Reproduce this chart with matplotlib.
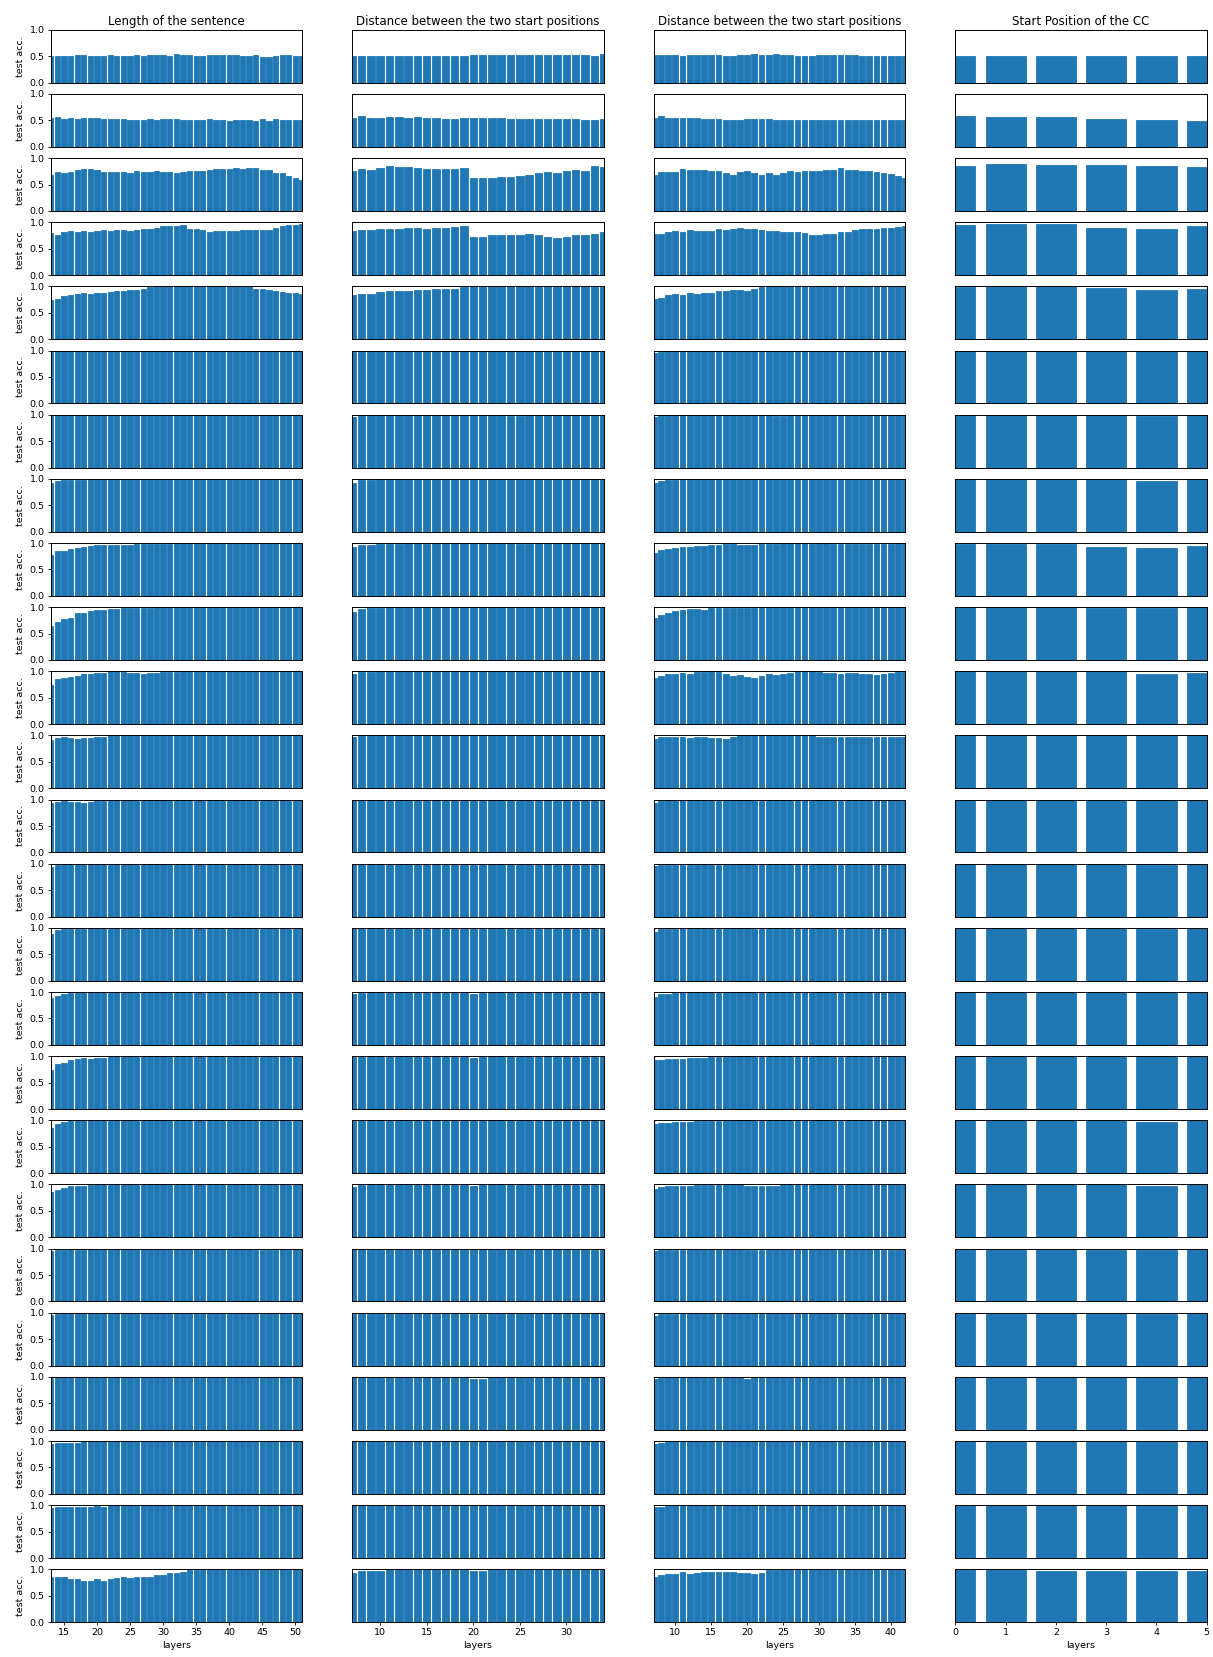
import numpy as np
import matplotlib
matplotlib.use("Agg")
import matplotlib.pyplot as plt

titles = ["Length of the sentence",
          "Distance between the two start positions",
          "Distance between the two start positions",
          "Start Position of the CC"]

x_len = list(range(13, 52))     # 39 bars
x_dist_a = list(range(7, 35))   # 28 bars
x_dist_b = list(range(7, 43))   # 36 bars
x_start = list(range(0, 6))     # 6 bars

# test accuracy (percent), one list per layer / row
acc_len = [
    [50, 50, 50, 50, 52, 52, 50, 50, 50, 52, 50, 50, 50, 52, 50, 52, 52, 52, 50, 54,
     52, 52, 50, 50, 52, 52, 52, 52, 52, 50, 50, 52, 48, 48, 50, 52, 52, 50, 50],
    [54, 56, 52, 54, 52, 54, 54, 54, 52, 52, 52, 52, 50, 50, 50, 52, 50, 52, 52, 52,
     50, 50, 50, 50, 52, 50, 50, 48, 50, 50, 50, 48, 52, 48, 52, 50, 50, 50, 50],
    [69, 73, 71, 73, 77, 79, 79, 77, 73, 73, 73, 73, 71, 75, 73, 73, 75, 73, 73, 71,
     73, 75, 75, 75, 77, 79, 79, 80, 82, 79, 81, 81, 77, 77, 71, 71, 66, 62, 58],
    [79, 76, 82, 84, 81, 84, 82, 84, 86, 84, 86, 86, 84, 86, 88, 88, 90, 92, 92, 92,
     94, 88, 88, 86, 82, 84, 84, 84, 84, 86, 86, 86, 86, 86, 90, 92, 94, 95, 96],
    [75, 77, 81, 83, 85, 88, 86, 88, 88, 90, 92, 92, 94, 94, 96, 98, 100, 100, 100, 100,
     100, 100, 100, 100, 100, 100, 100, 100, 100, 100, 100, 96, 96, 94, 92, 90, 88, 87, 85],
    [97, 99, 100, 100, 100, 100, 100, 100, 100, 100, 100, 100, 100, 100, 100, 100, 100, 100, 100, 100,
     100, 100, 100, 100, 100, 100, 100, 100, 100, 100, 100, 100, 100, 100, 100, 100, 100, 100, 100],
    [98, 99, 100, 100, 100, 100, 100, 100, 100, 100, 100, 100, 100, 100, 100, 100, 100, 100, 100, 100,
     100, 100, 99, 100, 100, 100, 100, 100, 100, 100, 100, 100, 100, 100, 100, 100, 100, 100, 100],
    [93, 96, 97, 97, 98, 98, 99, 100, 100, 100, 100, 100, 100, 100, 100, 100, 100, 100, 100, 100,
     100, 100, 100, 100, 100, 100, 100, 100, 100, 100, 100, 100, 100, 100, 100, 100, 100, 100, 100],
    [78, 85, 85, 88, 90, 92, 94, 96, 96, 97, 97, 97, 97, 98, 98, 98, 98, 99, 99, 100,
     100, 100, 100, 100, 100, 100, 100, 100, 100, 100, 100, 100, 100, 100, 100, 100, 100, 100, 100],
    [65, 72, 78, 80, 88, 88, 92, 95, 95, 97, 97, 98, 98, 98, 99, 99, 100, 100, 100, 100,
     100, 100, 100, 100, 100, 100, 100, 100, 100, 100, 100, 100, 100, 100, 100, 100, 100, 100, 100],
    [75, 85, 88, 90, 92, 95, 95, 96, 97, 100, 100, 98, 96, 97, 95, 96, 97, 98, 98, 99,
     100, 100, 100, 100, 100, 100, 100, 100, 100, 100, 100, 100, 100, 100, 100, 100, 100, 100, 100],
    [92, 95, 97, 95, 93, 95, 95, 97, 97, 100, 100, 100, 100, 100, 100, 100, 100, 100, 100, 100,
     100, 100, 100, 100, 100, 100, 100, 100, 100, 100, 100, 100, 100, 100, 100, 100, 100, 100, 100],
    [93, 95, 97, 96, 95, 94, 96, 98, 97, 100, 100, 100, 100, 100, 100, 100, 100, 100, 100, 100,
     100, 100, 100, 100, 100, 100, 100, 100, 100, 100, 100, 100, 100, 100, 100, 100, 100, 100, 100],
    [93, 97, 100, 100, 100, 100, 100, 100, 100, 100, 100, 100, 100, 100, 100, 100, 100, 100, 100, 100,
     100, 100, 100, 100, 100, 100, 100, 100, 100, 100, 100, 100, 100, 100, 100, 100, 100, 100, 100],
    [88, 96, 97, 98, 98, 98, 100, 100, 100, 100, 100, 100, 100, 100, 100, 100, 100, 100, 100, 100,
     100, 100, 100, 100, 100, 100, 100, 100, 100, 100, 100, 100, 100, 100, 100, 100, 100, 100, 100],
    [88, 93, 97, 99, 100, 100, 100, 100, 100, 100, 100, 100, 100, 100, 100, 100, 100, 100, 100, 100,
     100, 100, 100, 100, 100, 100, 100, 100, 100, 100, 100, 100, 100, 100, 100, 100, 100, 100, 100],
    [73, 85, 88, 92, 95, 96, 95, 97, 97, 100, 100, 100, 100, 100, 100, 100, 100, 100, 100, 100,
     100, 100, 100, 100, 100, 100, 100, 100, 100, 100, 100, 100, 100, 100, 100, 100, 100, 100, 100],
    [85, 93, 97, 100, 100, 100, 100, 100, 100, 100, 100, 100, 100, 100, 100, 100, 100, 100, 100, 100,
     100, 100, 100, 100, 100, 100, 100, 100, 100, 100, 100, 100, 100, 100, 100, 100, 100, 100, 100],
    [85, 90, 94, 98, 98, 98, 99, 100, 100, 100, 100, 100, 100, 100, 100, 100, 100, 100, 100, 100,
     100, 100, 100, 100, 100, 100, 100, 100, 100, 100, 100, 100, 100, 100, 100, 100, 100, 100, 100],
    [96, 97, 98, 99, 98, 100, 100, 100, 100, 100, 100, 100, 100, 100, 100, 100, 100, 100, 100, 100,
     100, 100, 100, 100, 100, 100, 100, 100, 100, 100, 100, 98, 98, 98, 100, 100, 100, 100, 100],
    [95, 97, 100, 100, 100, 100, 100, 100, 100, 100, 100, 100, 100, 100, 100, 100, 100, 100, 100, 100,
     100, 100, 100, 100, 100, 100, 100, 100, 100, 100, 100, 100, 100, 100, 100, 100, 100, 100, 100],
    [98, 99, 100, 100, 100, 100, 100, 100, 100, 100, 100, 100, 100, 100, 100, 100, 100, 100, 100, 100,
     100, 100, 100, 100, 100, 100, 100, 100, 100, 100, 100, 100, 100, 100, 100, 100, 100, 100, 100],
    [95, 96, 97, 96, 96, 100, 100, 100, 100, 100, 100, 100, 100, 100, 100, 100, 100, 100, 100, 100,
     100, 100, 100, 100, 100, 100, 100, 100, 100, 100, 100, 100, 100, 100, 100, 100, 100, 100, 100],
    [94, 96, 97, 97, 97, 97, 97, 98, 97, 100, 100, 100, 100, 100, 100, 100, 100, 100, 100, 100,
     100, 100, 100, 100, 100, 100, 100, 100, 100, 100, 100, 100, 100, 100, 100, 100, 100, 100, 100],
    [85, 85, 85, 81, 81, 78, 78, 81, 78, 81, 83, 85, 83, 85, 86, 86, 90, 90, 93, 93,
     95, 98, 100, 100, 100, 100, 100, 100, 100, 100, 100, 100, 100, 100, 100, 100, 100, 100, 100],
]

acc_dist_a = [
    [50, 50, 50, 50, 50, 50, 50, 50, 50, 50, 50, 50, 50, 53, 53, 53, 52, 53, 53, 52, 53, 52, 52, 52, 52, 52, 50, 54],
    [55, 58, 54, 54, 56, 56, 55, 56, 54, 54, 52, 52, 54, 54, 54, 54, 54, 53, 52, 52, 52, 52, 52, 52, 52, 50, 50, 52],
    [75, 80, 78, 82, 86, 84, 84, 82, 80, 80, 80, 80, 82, 62, 62, 62, 65, 65, 67, 69, 71, 73, 71, 76, 78, 76, 86, 84],
    [84, 86, 86, 88, 88, 88, 89, 89, 88, 89, 89, 91, 93, 73, 73, 75, 76, 76, 76, 78, 75, 73, 71, 73, 75, 76, 78, 82],
    [83, 86, 86, 90, 92, 92, 92, 94, 94, 96, 96, 96, 98, 100, 100, 100, 100, 100, 100, 100, 100, 100, 100, 100, 100, 100, 100, 100],
    [97, 100, 100, 100, 100, 100, 100, 100, 100, 100, 100, 100, 100, 100, 100, 100, 100, 100, 100, 100, 100, 100, 100, 100, 100, 100, 100, 100],
    [96, 100, 100, 100, 100, 100, 100, 100, 100, 100, 100, 100, 100, 100, 100, 100, 100, 98, 98, 100, 100, 100, 100, 100, 100, 100, 100, 100],
    [93, 97, 98, 100, 100, 100, 100, 100, 100, 100, 100, 100, 100, 100, 100, 100, 100, 100, 100, 100, 100, 100, 100, 100, 100, 100, 100, 100],
    [92, 96, 97, 98, 99, 99, 100, 100, 99, 100, 100, 100, 100, 100, 100, 100, 100, 100, 99, 99, 100, 100, 100, 100, 100, 100, 100, 100],
    [90, 97, 98, 99, 100, 100, 100, 100, 100, 100, 100, 100, 100, 100, 100, 100, 100, 100, 100, 100, 100, 100, 100, 100, 100, 100, 100, 100],
    [95, 98, 98, 100, 100, 100, 100, 100, 100, 100, 100, 100, 100, 100, 100, 100, 100, 100, 100, 100, 100, 100, 100, 100, 100, 100, 100, 100],
    [98, 100, 100, 100, 100, 100, 100, 100, 100, 100, 100, 100, 100, 100, 100, 100, 100, 100, 100, 100, 100, 100, 100, 100, 100, 100, 100, 100],
    [99, 100, 100, 100, 100, 100, 100, 100, 100, 100, 100, 100, 100, 100, 100, 100, 100, 100, 100, 100, 100, 100, 100, 100, 100, 100, 100, 100],
    [99, 100, 100, 100, 100, 100, 100, 100, 100, 100, 100, 100, 100, 97, 100, 100, 100, 100, 100, 100, 100, 100, 100, 100, 100, 100, 100, 100],
    [99, 100, 100, 100, 100, 100, 100, 100, 100, 100, 100, 100, 100, 100, 100, 100, 100, 100, 100, 100, 100, 100, 100, 100, 100, 100, 100, 100],
    [97, 99, 100, 100, 100, 100, 100, 100, 100, 100, 100, 100, 100, 97, 98, 100, 100, 100, 100, 100, 100, 100, 100, 100, 100, 100, 100, 100],
    [98, 100, 100, 100, 100, 100, 100, 100, 100, 100, 100, 100, 100, 97, 100, 100, 100, 100, 100, 100, 100, 100, 100, 100, 100, 100, 100, 100],
    [98, 100, 100, 100, 100, 100, 100, 100, 100, 100, 100, 100, 100, 100, 100, 100, 100, 100, 100, 100, 100, 100, 100, 100, 100, 100, 100, 100],
    [96, 99, 100, 100, 100, 100, 100, 100, 100, 100, 100, 100, 100, 98, 100, 100, 100, 100, 100, 100, 100, 100, 100, 100, 100, 100, 100, 100],
    [100, 100, 100, 100, 100, 100, 100, 100, 100, 100, 100, 100, 100, 100, 100, 100, 100, 100, 100, 100, 100, 100, 100, 100, 100, 100, 98, 100],
    [98, 100, 100, 100, 100, 100, 100, 100, 100, 100, 100, 100, 100, 97, 97, 100, 100, 100, 100, 100, 100, 100, 100, 100, 100, 100, 100, 100],
    [100, 100, 100, 100, 100, 100, 100, 100, 100, 100, 100, 100, 100, 97, 96, 100, 100, 100, 100, 100, 100, 100, 100, 100, 100, 100, 100, 100],
    [100, 100, 100, 100, 100, 100, 100, 100, 100, 100, 100, 100, 100, 100, 100, 100, 100, 100, 100, 100, 100, 100, 100, 100, 100, 100, 100, 100],
    [100, 100, 100, 100, 100, 100, 100, 100, 100, 100, 100, 100, 100, 100, 100, 100, 100, 100, 100, 100, 100, 100, 100, 100, 100, 100, 100, 100],
    [93, 97, 97, 97, 100, 100, 100, 100, 100, 100, 100, 100, 100, 97, 97, 100, 100, 100, 100, 100, 100, 100, 100, 100, 100, 100, 100, 100],
]

acc_dist_b = [
    [52, 52, 52, 52, 50, 52, 52, 52, 52, 52, 50, 50, 52, 52, 54, 52, 52, 54, 52, 52,
     50, 50, 50, 52, 52, 52, 52, 52, 52, 50, 50, 50, 50, 50, 50, 50],
    [55, 58, 55, 55, 55, 54, 54, 52, 52, 52, 50, 50, 50, 52, 52, 52, 52, 50, 50, 50,
     50, 50, 50, 50, 50, 50, 50, 50, 50, 50, 50, 50, 50, 50, 50, 50],
    [69, 73, 73, 73, 80, 78, 78, 78, 75, 75, 71, 69, 73, 75, 71, 69, 71, 69, 71, 75,
     73, 75, 75, 76, 78, 78, 82, 78, 78, 76, 76, 74, 72, 70, 66, 62],
    [78, 78, 82, 84, 82, 86, 84, 84, 84, 88, 86, 88, 89, 88, 88, 86, 84, 84, 82, 82,
     82, 80, 76, 76, 78, 78, 82, 82, 86, 87, 88, 88, 90, 90, 91, 92],
    [77, 79, 83, 86, 84, 88, 86, 88, 88, 91, 91, 93, 93, 91, 95, 98, 100, 100, 100, 100,
     100, 100, 100, 100, 100, 100, 100, 100, 100, 100, 100, 100, 100, 100, 100, 100],
    [96, 97, 100, 100, 100, 100, 100, 100, 100, 100, 100, 100, 100, 100, 100, 100, 100, 100, 100, 100,
     100, 100, 100, 100, 100, 100, 100, 100, 100, 100, 100, 100, 100, 100, 100, 100],
    [96, 100, 100, 100, 100, 100, 100, 100, 100, 100, 100, 100, 100, 100, 100, 100, 100, 98, 98, 100,
     100, 100, 100, 100, 100, 100, 100, 100, 100, 100, 100, 100, 100, 100, 100, 100],
    [93, 95, 97, 98, 99, 100, 100, 100, 100, 100, 100, 100, 100, 100, 100, 100, 100, 100, 100, 100,
     100, 100, 100, 100, 100, 100, 100, 100, 100, 100, 100, 100, 100, 100, 100, 100],
    [82, 86, 88, 90, 92, 93, 94, 95, 96, 97, 98, 98, 97, 97, 97, 98, 98, 99, 100, 100,
     100, 100, 99, 100, 100, 99, 98, 98, 98, 98, 98, 98, 99, 99, 100, 100],
    [80, 85, 88, 92, 95, 97, 97, 95, 98, 98, 98, 99, 99, 98, 99, 100, 100, 100, 100, 100,
     100, 100, 100, 100, 100, 100, 100, 100, 100, 100, 100, 100, 100, 100, 100, 100],
    [88, 92, 94, 95, 96, 95, 98, 98, 100, 98, 95, 92, 93, 90, 88, 92, 95, 93, 95, 97,
     100, 100, 100, 98, 97, 97, 95, 97, 97, 95, 95, 93, 95, 97, 98, 100],
    [93, 97, 98, 98, 97, 95, 97, 97, 95, 95, 93, 97, 100, 100, 100, 100, 100, 100, 100, 100,
     100, 100, 100, 97, 97, 97, 97, 97, 98, 98, 98, 98, 98, 98, 98, 98],
    [93, 97, 100, 100, 100, 100, 100, 100, 100, 100, 100, 100, 100, 100, 100, 97, 100, 100, 100, 100,
     100, 100, 100, 100, 100, 100, 100, 100, 100, 100, 100, 100, 100, 100, 100, 100],
    [95, 97, 97, 98, 98, 97, 98, 99, 98, 98, 99, 100, 100, 100, 100, 100, 100, 100, 100, 100,
     100, 100, 100, 100, 100, 100, 100, 100, 100, 100, 100, 100, 100, 100, 100, 100],
    [93, 97, 98, 98, 99, 99, 99, 100, 100, 100, 100, 100, 100, 100, 97, 100, 100, 100, 100, 100,
     100, 100, 100, 100, 100, 100, 100, 100, 100, 100, 100, 100, 100, 100, 100, 100],
    [90, 96, 97, 98, 100, 100, 100, 100, 100, 100, 100, 100, 100, 100, 100, 100, 100, 100, 100, 100,
     100, 100, 100, 100, 100, 100, 100, 100, 100, 100, 100, 100, 100, 100, 100, 100],
    [92, 93, 94, 95, 95, 96, 97, 97, 98, 98, 99, 100, 100, 100, 100, 100, 100, 100, 100, 100,
     100, 100, 100, 100, 100, 100, 100, 100, 100, 100, 100, 100, 100, 100, 100, 100],
    [93, 95, 95, 97, 97, 97, 98, 98, 99, 99, 100, 100, 100, 100, 100, 100, 100, 100, 100, 100,
     100, 100, 100, 100, 100, 100, 100, 100, 100, 100, 100, 100, 100, 100, 100, 100],
    [92, 95, 97, 97, 98, 98, 99, 99, 99, 100, 100, 100, 100, 97, 97, 97, 98, 97, 100, 100,
     100, 100, 100, 100, 100, 100, 100, 100, 100, 100, 100, 100, 100, 100, 100, 100],
    [95, 97, 98, 98, 98, 99, 99, 100, 100, 100, 100, 100, 100, 97, 97, 97, 100, 100, 100, 100,
     100, 100, 100, 100, 100, 100, 100, 100, 100, 100, 100, 100, 97, 97, 97, 100],
    [94, 97, 98, 98, 99, 100, 100, 100, 100, 100, 100, 100, 100, 100, 100, 100, 100, 100, 100, 100,
     100, 100, 100, 100, 100, 100, 100, 100, 100, 100, 100, 100, 100, 100, 100, 100],
    [96, 98, 100, 100, 100, 100, 100, 100, 100, 100, 100, 100, 100, 97, 100, 100, 100, 100, 100, 100,
     100, 100, 100, 100, 100, 100, 100, 100, 100, 100, 100, 100, 100, 100, 100, 100],
    [95, 97, 100, 100, 100, 100, 100, 100, 100, 100, 100, 100, 100, 100, 100, 100, 100, 100, 100, 100,
     100, 100, 100, 100, 100, 100, 100, 100, 100, 100, 100, 100, 100, 100, 100, 100],
    [96, 97, 100, 100, 100, 100, 100, 100, 100, 100, 100, 100, 100, 100, 100, 100, 100, 100, 100, 100,
     100, 100, 100, 100, 100, 100, 100, 100, 100, 100, 100, 100, 100, 100, 100, 100],
    [86, 90, 92, 92, 95, 91, 93, 95, 95, 95, 95, 95, 93, 93, 91, 93, 98, 98, 100, 100,
     100, 100, 100, 100, 100, 100, 100, 100, 100, 100, 100, 100, 100, 100, 100, 100],
]

acc_start = [
    [50, 50, 50, 50, 50, 50],
    [58, 56, 56, 52, 50, 48],
    [85, 88, 87, 87, 85, 83],
    [95, 97, 97, 90, 88, 92],
    [98, 100, 100, 97, 93, 95],
    [100, 100, 100, 100, 100, 100],
    [100, 100, 100, 100, 98, 100],
    [100, 100, 100, 100, 95, 100],
    [98, 98, 98, 93, 90, 95],
    [100, 100, 100, 98, 98, 100],
    [100, 100, 100, 100, 95, 97],
    [100, 100, 100, 100, 100, 100],
    [100, 100, 100, 100, 100, 100],
    [100, 100, 100, 100, 98, 100],
    [100, 100, 100, 100, 98, 100],
    [100, 100, 100, 100, 100, 100],
    [100, 100, 100, 100, 100, 100],
    [100, 100, 100, 100, 97, 100],
    [100, 100, 100, 100, 98, 100],
    [100, 100, 100, 98, 98, 100],
    [100, 100, 100, 100, 98, 100],
    [100, 100, 100, 100, 100, 100],
    [100, 100, 100, 100, 100, 100],
    [100, 100, 100, 100, 100, 100],
    [100, 100, 97, 97, 97, 97],
]

xticks = [list(range(15, 51, 5)), list(range(10, 31, 5)),
          list(range(10, 41, 5)), list(range(0, 6))]

columns = [(x_len, acc_len), (x_dist_a, acc_dist_a),
           (x_dist_b, acc_dist_b), (x_start, acc_start)]

n_rows = len(acc_len)
fig, axes = plt.subplots(n_rows, 4, figsize=(12.13, 16.57), dpi=100)
fig.subplots_adjust(left=0.0418, right=0.9948, top=0.982, bottom=0.021,
                    wspace=0.2, hspace=0.214)

for c, (xs, acc) in enumerate(columns):
    for r in range(n_rows):
        ax = axes[r, c]
        # thin edge in the face colour makes the gaps narrower, like the original
        ax.bar(xs, np.array(acc[r]) / 100.0, width=0.8, color="#1f77b4",
               edgecolor="#1f77b4", linewidth=0.6)
        ax.set_xlim(xs[0], xs[-1])
        ax.set_ylim(0, 1.0)
        ax.tick_params(labelsize=6.8, length=2.2, width=0.6, pad=2.2)
        for sp in ax.spines.values():
            sp.set_linewidth(0.7)
        if c == 0:
            ax.set_yticks([0.0, 0.5, 1.0])
            ax.set_ylabel("test acc.", fontsize=6.8, labelpad=3)
        else:
            ax.set_yticks([])
        if r == n_rows - 1:
            ax.set_xticks(xticks[c])
            ax.set_xlabel("layers", fontsize=6.8, labelpad=2.5)
        else:
            ax.set_xticks([])
        if r == 0:
            ax.set_title(titles[c], fontsize=8.5, pad=3.8)

fig.savefig("out.png", dpi=100)
